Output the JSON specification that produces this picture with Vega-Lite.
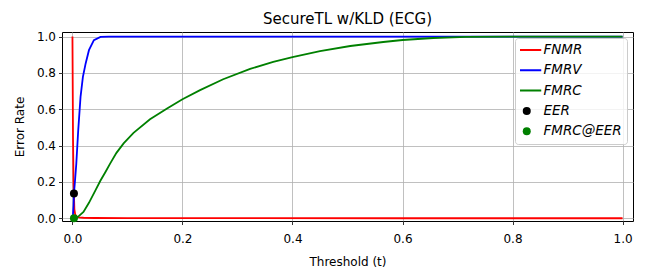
{
  "$schema": "https://vega.github.io/schema/vega-lite/v6.json",
  "width": 571,
  "height": 189,
  "autosize": "none",
  "padding": {"left": 62, "top": 32, "right": 15, "bottom": 57},
  "background": "white",
  "title": {"text": "SecureTL w/KLD (ECG)", "font": "DejaVu Sans", "fontSize": 15, "fontWeight": "normal", "color": "black", "offset": 4, "anchor": "middle"},
  "config": {
    "view": {"stroke": "black", "strokeWidth": 1},
    "axis": {
      "labelFont": "DejaVu Sans", "labelFontSize": 12, "labelColor": "black", "labelOverlap": false, "labelFlush": false, "labelSeparation": 0,
      "titleFont": "DejaVu Sans", "titleFontSize": 12, "titleFontWeight": "normal", "titleColor": "black",
      "domain": false, "grid": true, "gridColor": "#b0b0b0", "gridWidth": 0.8, "gridOpacity": 1,
      "tickColor": "black", "tickWidth": 0.8, "tickSize": 3.5
    },
    "legend": {
      "labelFont": "DejaVu Sans", "labelFontSize": 13.5, "labelFontStyle": "italic", "labelColor": "black", "labelLimit": 200
    }
  },
  "layer": [
    {
      "data": {"values": [
        {"series": "FNMR", "t": 0, "v": 1.0},
        {"series": "FNMR", "t": 0.001, "v": 0.45},
        {"series": "FNMR", "t": 0.002, "v": 0.19},
        {"series": "FNMR", "t": 0.0027, "v": 0.13},
        {"series": "FNMR", "t": 0.0035, "v": 0.05},
        {"series": "FNMR", "t": 0.005, "v": 0.02},
        {"series": "FNMR", "t": 0.008, "v": 0.009},
        {"series": "FNMR", "t": 0.012, "v": 0.005},
        {"series": "FNMR", "t": 0.02, "v": 0.003},
        {"series": "FNMR", "t": 0.04, "v": 0.0015},
        {"series": "FNMR", "t": 0.1, "v": 0.001},
        {"series": "FNMR", "t": 0.3, "v": 0.0005},
        {"series": "FNMR", "t": 0.6, "v": 0.0002},
        {"series": "FNMR", "t": 1.0, "v": 0},
        {"series": "FMRV", "t": 0, "v": 0},
        {"series": "FMRV", "t": 0.001, "v": 0.02},
        {"series": "FMRV", "t": 0.002, "v": 0.07},
        {"series": "FMRV", "t": 0.0027, "v": 0.135},
        {"series": "FMRV", "t": 0.005, "v": 0.22},
        {"series": "FMRV", "t": 0.007, "v": 0.30},
        {"series": "FMRV", "t": 0.0105, "v": 0.485},
        {"series": "FMRV", "t": 0.0147, "v": 0.668},
        {"series": "FMRV", "t": 0.019, "v": 0.778},
        {"series": "FMRV", "t": 0.024, "v": 0.852},
        {"series": "FMRV", "t": 0.03, "v": 0.925},
        {"series": "FMRV", "t": 0.039, "v": 0.98},
        {"series": "FMRV", "t": 0.051, "v": 0.998},
        {"series": "FMRV", "t": 0.066, "v": 1.0},
        {"series": "FMRV", "t": 0.2, "v": 1.0},
        {"series": "FMRV", "t": 0.5, "v": 1.0},
        {"series": "FMRV", "t": 1.0, "v": 1.0},
        {"series": "FMRC", "t": 0, "v": 0},
        {"series": "FMRC", "t": 0.005, "v": 0.0},
        {"series": "FMRC", "t": 0.01, "v": 0.008},
        {"series": "FMRC", "t": 0.02, "v": 0.035},
        {"series": "FMRC", "t": 0.03, "v": 0.085},
        {"series": "FMRC", "t": 0.042, "v": 0.155},
        {"series": "FMRC", "t": 0.0505, "v": 0.205},
        {"series": "FMRC", "t": 0.06, "v": 0.255},
        {"series": "FMRC", "t": 0.0687, "v": 0.302},
        {"series": "FMRC", "t": 0.08, "v": 0.36},
        {"series": "FMRC", "t": 0.093, "v": 0.412},
        {"series": "FMRC", "t": 0.111, "v": 0.47},
        {"series": "FMRC", "t": 0.141, "v": 0.545},
        {"series": "FMRC", "t": 0.172, "v": 0.604},
        {"series": "FMRC", "t": 0.2, "v": 0.655},
        {"series": "FMRC", "t": 0.232, "v": 0.705},
        {"series": "FMRC", "t": 0.274, "v": 0.765},
        {"series": "FMRC", "t": 0.323, "v": 0.822},
        {"series": "FMRC", "t": 0.365, "v": 0.86},
        {"series": "FMRC", "t": 0.4, "v": 0.887},
        {"series": "FMRC", "t": 0.45, "v": 0.92},
        {"series": "FMRC", "t": 0.505, "v": 0.948},
        {"series": "FMRC", "t": 0.565, "v": 0.97},
        {"series": "FMRC", "t": 0.6, "v": 0.981},
        {"series": "FMRC", "t": 0.656, "v": 0.992},
        {"series": "FMRC", "t": 0.716, "v": 0.998},
        {"series": "FMRC", "t": 0.8, "v": 1.0},
        {"series": "FMRC", "t": 1.0, "v": 1.0}
      ]},
      "mark": {"type": "line", "strokeWidth": 1.8, "clip": true},
      "encoding": {
        "x": {"field": "t", "type": "quantitative", "scale": {"domain": [-0.019, 1.019], "nice": false, "zero": false},
              "axis": {"values": [0, 0.2, 0.4, 0.6, 0.8, 1.0], "format": ".1f", "title": "Threshold (t)", "labelPadding": 9, "titlePadding": 12, "labelOverlap": false}},
        "y": {"field": "v", "type": "quantitative", "scale": {"domain": [-0.015, 1.025], "nice": false, "zero": false},
              "axis": {"values": [0, 0.2, 0.4, 0.6, 0.8, 1.0], "format": ".1f", "title": "Error Rate", "labelPadding": 3, "titlePadding": 10, "labelOverlap": false, "labelSeparation": 0, "tickCount": 6}},
        "color": {"field": "series", "type": "nominal",
          "scale": {"domain": ["FNMR", "FMRV", "FMRC", "EER", "FMRC@EER"], "range": ["#ff0000", "#0000ff", "#008000", "#000000", "#008000"]},
          "legend": {
            "title": null, "orient": "top-right", "offset": 6, "padding": 5,
            "fillColor": "rgba(255,255,255,0.8)", "strokeColor": "#cccccc", "cornerRadius": 3,
            "symbolSize": 841, "symbolType": "stroke", "clipHeight": 14, "rowPadding": 6.3, "labelOffset": 10,
            "encode": {"symbols": {"update": {
              "shape": {"signal": "indexof(['EER','FMRC@EER'], datum.value) >= 0 ? 'circle' : 'stroke'"},
              "size": {"signal": "indexof(['EER','FMRC@EER'], datum.value) >= 0 ? 64 : 841"},
              "fill": {"signal": "indexof(['EER','FMRC@EER'], datum.value) >= 0 ? scale('color', datum.value) : 'transparent'"},
              "stroke": {"signal": "scale('color', datum.value)"},
              "strokeWidth": {"signal": "indexof(['EER','FMRC@EER'], datum.value) >= 0 ? 0 : 2"},
              "opacity": {"value": 1}
            }}}
          }
        }
      }
    },
    {
      "data": {"values": [
        {"series": "EER", "t": 0.0027, "v": 0.137},
        {"series": "FMRC@EER", "t": 0.0027, "v": 0.0}
      ]},
      "mark": {"type": "point", "filled": true, "size": 64, "opacity": 1},
      "encoding": {
        "x": {"field": "t", "type": "quantitative"},
        "y": {"field": "v", "type": "quantitative"},
        "color": {"field": "series", "type": "nominal"}
      }
    }
  ]
}
